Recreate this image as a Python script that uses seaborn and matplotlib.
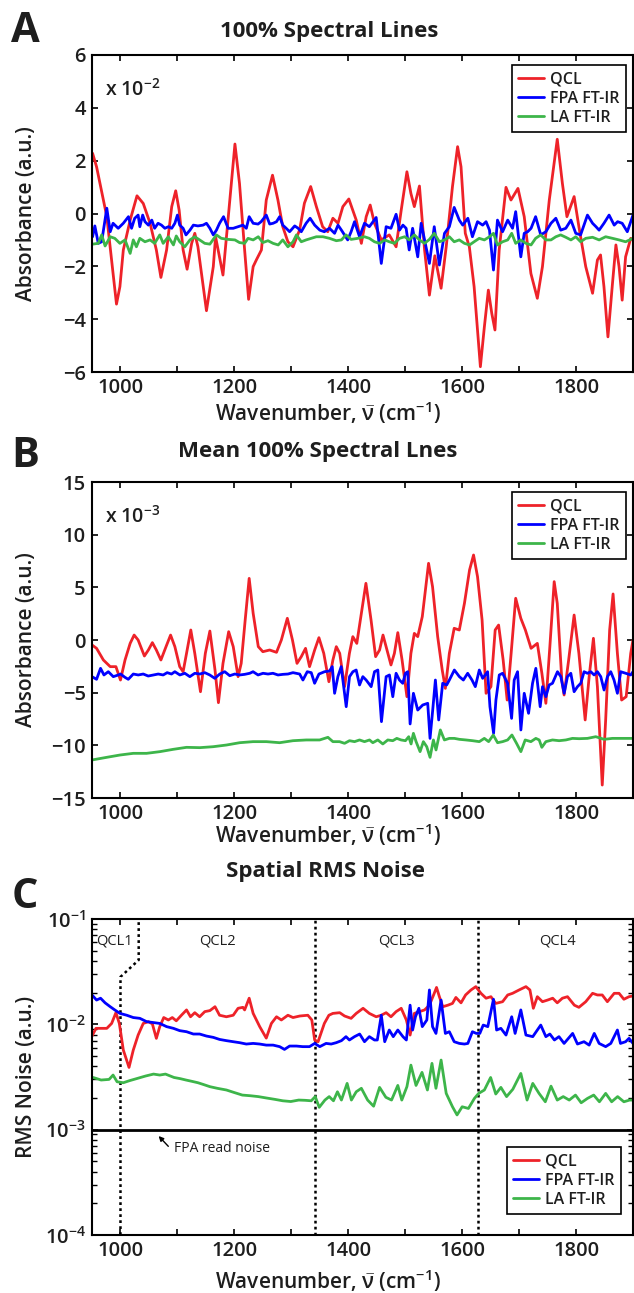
import numpy as np
import pandas as pd
import matplotlib
matplotlib.use("Agg")
import matplotlib.pyplot as plt
import seaborn as sns
from matplotlib.ticker import FixedLocator, LogLocator, NullFormatter

# ---------------------------------------------------------------- data
series_names = ["QCL", "FPA FT-IR", "LA FT-IR"]
series_colors = ["#ee2229", "#0000ff", "#3db54a"]

xticks = [1000, 1200, 1400, 1600, 1800]
xminor = [1000, 1100, 1200, 1300, 1400, 1500, 1600, 1700, 1800, 1900]
a_yticks = [-6, -4, -2, 0, 2, 4, 6]
b_yticks = [-15, -10, -5, 0, 5, 10, 15]
c_yticks = [1e-4, 1e-3, 1e-2, 1e-1]
c_ytick_labels = [r"$10^{-4}$", r"$10^{-3}$", r"$10^{-2}$", r"$10^{-1}$"]

# Panel A (absorbance, units of 1e-2)
a_qcl_wn = [951, 958, 976, 987, 993, 999, 1005, 1017, 1029, 1040,
            1052, 1063, 1071, 1081, 1090, 1097, 1103, 1110, 1117, 1125,
            1130.5, 1136, 1151, 1163, 1167, 1180, 1201, 1209, 1218, 1225,
            1233, 1239, 1247.5, 1256, 1267, 1276.5, 1285, 1294, 1303, 1314.6,
            1323, 1334, 1344, 1355, 1364, 1373, 1382, 1390.5, 1401, 1414,
            1423, 1431.5, 1438.5, 1446, 1458, 1472, 1484, 1493, 1503, 1510,
            1516, 1525, 1534, 1542.5, 1552, 1563, 1572, 1583, 1592, 1598,
            1605.5, 1612.6, 1621, 1632, 1639, 1646, 1652, 1657.6, 1665, 1677,
            1685.7, 1698, 1709, 1720.7, 1732, 1741, 1753, 1767, 1776, 1784,
            1796.6, 1805, 1817, 1829, 1837.5, 1843, 1849, 1856, 1864, 1870,
            1875.5, 1881, 1887, 1896, 1900]
a_qcl = [2.28, 1.77, -0.12, -2.27, -3.43, -2.77, -1.38, -0.25, 0.67, 0.38,
         -0.37, -1.38, -2.42, -1.38, 0.26, 0.86, 0.13, -1.38, -2.11, -1.13,
         -0.75, -1.26, -3.68, -2.01, -0.88, -2.33, 2.63, 1.14, -1.38, -3.25,
         -2.01, -1.74, -1.38, 0.51, 1.45, 0.51, -0.50, -1.07, -1.26, -0.62,
         0.39, 1.02, 0.26, -0.50, -0.69, -0.18, -0.37, 0.26, 0.55, -0.25,
         -1.13, -0.12, 0.32, -0.37, -1.00, -0.81, -1.26, 0.13, 1.58, 0.76,
         0.26, 1.04, -1.38, -3.09, -1.60, -2.83, -1.26, 1.02, 2.53, 1.77,
         -0.75, -1.26, -2.77, -5.80, -4.29, -2.90, -3.78, -4.41, -1.38, 0.99,
         0.51, 0.95, -0.12, -2.27, -3.21, -2.01, 0.51, 2.81, 1.14, -0.12,
         0.64, -0.50, -2.01, -3.02, -1.76, -1.57, -2.77, -4.67, -2.64, -1.19,
         -2.01, -3.28, -1.64, -0.94, -1.00]

a_fpa_wn = [951, 955, 961, 967, 976, 982, 987, 996, 1005, 1014,
            1019.5, 1025, 1031, 1034, 1039, 1043, 1049, 1055, 1060, 1066,
            1072, 1078, 1084, 1090, 1095.5, 1100, 1104, 1110, 1115, 1122,
            1128, 1136, 1145, 1151, 1157, 1163, 1168.5, 1174, 1181, 1189,
            1198, 1206.5, 1215, 1221, 1226, 1233, 1241.6, 1247, 1256, 1262,
            1268, 1274, 1279.5, 1285, 1291, 1297, 1306, 1312, 1317.5, 1326,
            1333, 1341, 1350, 1358, 1367, 1376, 1382, 1388, 1399, 1405,
            1411, 1419.8, 1428.5, 1437, 1449, 1458, 1466.5, 1475, 1484, 1490,
            1496, 1501.6, 1507, 1513, 1522, 1528, 1534, 1542.5, 1551, 1560,
            1569, 1577.5, 1586, 1595, 1601, 1610, 1618, 1627, 1636, 1642,
            1648, 1655, 1662, 1671, 1680, 1688.5, 1694, 1703, 1709, 1715,
            1721, 1729, 1738, 1747, 1756, 1764.5, 1773, 1782, 1791, 1799.5,
            1808, 1820, 1829, 1835, 1840.5, 1849, 1858, 1867, 1873, 1881,
            1890, 1900]
a_fpa = [-0.88, -0.47, -1.13, -1.07, 0.20, -0.69, -0.37, -0.56, -0.37, -0.12,
         -0.56, -0.18, -0.06, -0.50, -0.06, -0.31, -0.44, -0.25, -0.56, -0.37,
         -0.44, -0.56, -0.50, -0.56, -0.37, -0.06, -0.44, -0.56, -0.81, -0.63,
         -0.44, -0.47, -0.44, -0.37, -0.56, -0.81, -0.63, -0.37, -0.12, -0.56,
         -0.56, -0.50, -0.44, -0.56, -0.12, -0.37, -0.40, -0.31, -0.06, -0.40,
         -0.37, -0.31, -0.12, -0.44, -0.56, -0.69, -0.47, -0.56, -0.69, -0.37,
         -0.18, -0.44, -0.63, -0.69, -0.56, -0.75, -0.44, -0.63, -1.00, -0.69,
         -0.31, -0.88, -0.37, -0.50, -0.15, -1.89, -0.50, -0.56, -0.03, -0.63,
         -0.44, -0.56, -1.38, -0.56, -1.64, -0.37, -1.00, -1.89, -0.50, -1.95,
         -0.75, -0.50, 0.23, -0.25, -0.44, -0.18, -0.88, -0.31, -0.44, -0.31,
         -0.63, -2.14, -0.25, -0.69, -0.25, -0.56, 0.07, -1.64, -0.75, -0.69,
         -0.56, -0.12, -0.81, -0.69, -0.37, -0.18, -0.63, -0.56, -0.25, -0.75,
         -0.81, -0.06, -0.37, -0.50, -0.63, -0.37, -0.06, -0.44, -0.31, -0.37,
         -0.69, -0.06]

a_la_wn = [951, 961, 967, 973, 982, 990, 999, 1008, 1017, 1022.5,
           1028, 1034, 1043, 1052, 1060, 1069, 1075, 1084, 1093, 1098,
           1104, 1113, 1122, 1130.5, 1139, 1148, 1157, 1168.5, 1177, 1189,
           1201, 1209, 1218, 1224, 1233, 1242, 1250, 1259, 1268, 1277,
           1285, 1294, 1303, 1309, 1317.5, 1326, 1335, 1344, 1355.5, 1367,
           1379, 1388, 1396, 1405, 1417, 1428.5, 1437, 1446, 1455, 1464,
           1472, 1481, 1490, 1499, 1507, 1516, 1525, 1534, 1542.5, 1551,
           1560, 1569, 1577.5, 1586, 1595, 1604, 1613, 1621, 1630, 1639,
           1648, 1655, 1662, 1671, 1680, 1687, 1694, 1703, 1712, 1721,
           1729, 1738, 1747, 1756, 1764.5, 1773, 1782, 1791, 1799.5, 1808,
           1817, 1829, 1840.5, 1852, 1864, 1875.5, 1887, 1900]
a_la = [-1.16, -1.13, -0.81, -1.23, -0.88, -0.94, -1.13, -1.00, -1.51, -1.00,
        -1.26, -0.94, -1.07, -1.00, -1.13, -0.81, -1.13, -0.88, -1.19, -0.85,
        -1.07, -1.26, -1.00, -0.88, -1.00, -1.13, -1.16, -0.81, -0.94, -0.98,
        -1.00, -1.10, -1.13, -0.94, -1.00, -0.88, -1.10, -1.03, -1.13, -1.19,
        -1.00, -1.26, -1.07, -0.81, -1.07, -1.00, -0.94, -0.88, -0.88, -0.94,
        -1.03, -1.00, -0.81, -0.98, -0.94, -0.88, -0.94, -1.07, -1.13, -1.00,
        -1.07, -1.13, -0.94, -0.88, -1.00, -0.81, -1.00, -1.13, -0.98, -0.75,
        -1.07, -1.00, -0.88, -1.07, -1.00, -1.13, -1.19, -1.07, -0.94, -1.00,
        -0.88, -0.75, -1.19, -1.07, -1.00, -0.75, -1.13, -1.00, -1.13, -1.19,
        -0.94, -0.81, -1.00, -1.00, -0.88, -0.81, -0.90, -1.00, -0.88, -1.07,
        -0.94, -0.90, -1.00, -0.88, -0.94, -1.00, -1.07, -0.94]

# Panel B (mean absorbance, units of 1e-3)
b_qcl_wn = [950, 958, 970, 982, 992, 1000, 1008, 1017, 1024, 1031,
            1042, 1049, 1056, 1063, 1071, 1080, 1088, 1095.5, 1104, 1110,
            1116, 1123.5, 1130.5, 1140.5, 1149, 1157, 1166, 1172, 1180, 1190,
            1198, 1206.5, 1212, 1219, 1226, 1233, 1242, 1250, 1262, 1274,
            1282.5, 1293, 1302, 1310, 1317.5, 1325, 1332, 1341, 1348.5, 1357,
            1366, 1373, 1379, 1385, 1393.5, 1402, 1408, 1415, 1423, 1431,
            1440, 1448, 1455, 1461, 1468, 1475, 1481, 1487, 1494.5, 1503,
            1510, 1516, 1522, 1530, 1541, 1548, 1557, 1565, 1570.5, 1577.5,
            1586, 1595, 1604, 1613, 1620, 1627, 1635, 1642, 1650.5, 1658,
            1664, 1672, 1679, 1686, 1694, 1703, 1711, 1721, 1732, 1740,
            1747, 1754, 1761.6, 1767, 1775, 1779, 1787, 1796.6, 1805, 1816,
            1823, 1830.5, 1837.5, 1846, 1852, 1859, 1865, 1872.6, 1880, 1888,
            1896, 1900]
b_qcl = [-0.47, -0.79, -1.90, -2.53, -2.53, -3.80, -1.90, -0.32, 0.47, 0.00,
         -1.52, -0.95, -0.25, -0.95, -1.90, -0.63, 0.47, -0.63, -2.53, -3.01,
         -1.27, 0.95, -1.27, -4.91, -1.27, 0.85, -2.85, -5.95, -2.22, 0.79,
         -0.63, -3.48, -2.22, 1.90, 5.85, 2.53, -0.63, -1.11, -0.95, -1.17,
         0.00, 2.06, 0.00, -2.22, -1.58, -0.79, -2.53, -0.95, 0.22, -1.27,
         -3.96, -1.90, -0.63, -1.27, -4.43, -1.27, 0.32, -0.32, 2.53, 5.38,
         1.90, -1.58, -0.95, 0.47, -0.95, -2.37, -1.27, 0.70, -1.90, -5.38,
         -1.27, 0.63, 0.32, 2.22, 7.28, 5.06, 0.32, -2.85, -4.59, -1.27,
         1.11, 0.95, 3.48, 6.65, 8.07, 6.01, 1.90, -5.06, -4.43, 0.95,
         1.42, -1.90, -5.70, -1.27, 3.96, 2.06, 0.95, -0.79, -0.32, -3.16,
         -6.01, -0.63, 5.54, 3.48, -3.80, -5.22, -1.90, 2.37, -1.27, -7.59,
         -3.48, 0.16, -4.43, -13.77, -7.59, 0.95, 4.37, -1.27, -5.70, -5.38,
         -1.27, 0.00]

b_fpa_wn = [950, 958, 965, 971, 978.6, 987.4, 996.2, 1000.2, 1007.8, 1013.7,
            1022.5, 1031.2, 1040, 1048.7, 1057.5, 1066.3, 1075, 1082, 1089.6, 1095.5,
            1104.3, 1113, 1121.8, 1130.5, 1139.3, 1148.1, 1156.8, 1165.6, 1174.4, 1183.1,
            1191.9, 1200.7, 1209.4, 1218.2, 1227, 1232.8, 1241.6, 1250.3, 1259.1, 1267.8,
            1276.6, 1285.4, 1294.1, 1302.9, 1314.6, 1320.4, 1328, 1335, 1340.9, 1348.5,
            1358.4, 1367.2, 1371.9, 1376, 1381.8, 1387.6, 1396.4, 1402.2, 1408.1, 1413.9,
            1419.8, 1425.6, 1431.4, 1440.2, 1446.1, 1451.9, 1458.3, 1466.5, 1472.3, 1478.2,
            1484, 1489.9, 1495.7, 1500.4, 1504.5, 1508.6, 1514.4, 1522, 1530.8, 1539.5,
            1543.6, 1548.3, 1553, 1558.8, 1565.8, 1572.8, 1577.5, 1586.3, 1595.1, 1602.1,
            1609.7, 1617.3, 1623.1, 1630.1, 1636, 1644.7, 1648.8, 1655.2, 1659.3, 1665.2,
            1671, 1679.8, 1686.8, 1691.4, 1697.3, 1703.1, 1709, 1716.6, 1723.6, 1729.4,
            1737, 1741.1, 1747, 1752.8, 1758.6, 1767.4, 1773.3, 1779.1, 1784.9, 1790.8,
            1796.6, 1802.5, 1808.3, 1814.1, 1820, 1825.8, 1831.7, 1837.5, 1843.4, 1849.2,
            1855.1, 1860.9, 1866.7, 1872.6, 1878.4, 1887.2, 1895.9, 1900]
b_fpa = [-3.48, -3.73, -2.69, -3.32, -3.01, -3.48, -3.32, -3.23, -3.54, -3.73,
         -3.23, -3.32, -3.23, -3.42, -3.32, -3.23, -3.32, -3.10, -3.23, -3.01,
         -3.32, -3.16, -3.48, -3.16, -3.23, -3.10, -3.32, -3.64, -3.23, -3.01,
         -3.39, -3.23, -3.32, -3.26, -3.16, -3.01, -3.32, -3.16, -3.23, -3.16,
         -3.32, -3.26, -3.23, -3.10, -3.23, -3.80, -3.01, -3.10, -4.11, -3.23,
         -3.01, -2.94, -2.53, -5.06, -3.48, -2.53, -6.33, -3.48, -3.01, -2.85,
         -4.27, -3.48, -3.80, -4.43, -3.01, -2.85, -7.75, -3.48, -3.32, -5.38,
         -3.16, -3.80, -4.11, -3.16, -3.01, -7.97, -5.06, -6.65, -6.17, -6.01,
         -9.34, -6.65, -3.80, -7.59, -4.11, -4.27, -3.80, -2.85, -3.48, -3.80,
         -3.16, -3.80, -4.43, -2.85, -3.64, -3.01, -6.33, -8.86, -5.70, -3.32,
         -3.16, -4.11, -7.44, -3.80, -3.01, -8.54, -5.06, -6.96, -4.11, -2.69,
         -6.33, -4.43, -5.38, -4.27, -4.11, -3.01, -3.48, -5.06, -3.48, -3.16,
         -4.91, -4.43, -4.11, -3.01, -3.16, -3.01, -3.32, -3.01, -3.48, -4.75,
         -3.48, -3.01, -3.80, -5.06, -3.01, -3.16, -3.32, -3.01]

b_la_wn = [950, 975.7, 999.1, 1022.5, 1045.8, 1069.2, 1092.6, 1116, 1139.3, 1162.7,
           1186.1, 1209.4, 1232.8, 1256.2, 1279.5, 1302.9, 1326.3, 1349.7, 1364.3, 1373,
           1384.7, 1393.5, 1402.2, 1411, 1419.8, 1428.5, 1437.3, 1443.1, 1451.9, 1460.7,
           1469.4, 1478.2, 1485.2, 1492.8, 1500.4, 1506.2, 1510.3, 1514.4, 1519.1, 1526.1,
           1531.9, 1537.8, 1543.6, 1549.5, 1554.1, 1561.7, 1568.8, 1577.5, 1586.3, 1595.1,
           1606.7, 1618.4, 1630.1, 1638.9, 1646.5, 1654.6, 1662.2, 1671, 1679.8, 1687.4,
           1695.5, 1703.1, 1710.7, 1720.7, 1729.4, 1735.3, 1739.9, 1747, 1758.6, 1770.3,
           1782, 1793.7, 1805.4, 1820, 1834.6, 1849.2, 1863.8, 1881.4, 1900]
b_la = [-11.39, -11.14, -10.92, -10.76, -10.76, -10.60, -10.38, -10.19, -10.22, -10.13,
        -9.97, -9.75, -9.65, -9.65, -9.75, -9.56, -9.49, -9.49, -9.24, -9.65,
        -9.65, -9.81, -9.56, -9.65, -9.49, -9.65, -9.49, -9.75, -9.49, -9.87,
        -9.49, -9.56, -9.34, -9.49, -9.56, -9.18, -9.87, -8.86, -9.65, -10.60,
        -9.65, -10.13, -11.14, -9.49, -10.44, -8.54, -9.49, -9.34, -9.34, -9.43,
        -9.49, -9.56, -9.65, -9.34, -9.65, -9.02, -9.75, -9.65, -9.49, -9.02,
        -9.81, -10.60, -9.49, -9.65, -9.34, -9.49, -10.19, -9.65, -9.49, -9.56,
        -9.49, -9.34, -9.37, -9.34, -9.18, -9.43, -9.34, -9.34, -9.34]

# Panel C (spatial RMS noise, units of 1e-3)
c_qcl_wn = [950, 957, 964, 976, 984.5, 992, 998, 1005, 1015, 1022.5,
            1031, 1040, 1049, 1056, 1063, 1069, 1076, 1084, 1091, 1098,
            1107, 1116, 1123, 1130.5, 1139, 1148, 1157, 1166, 1174, 1186,
            1198, 1206.5, 1215, 1218, 1226, 1233, 1244.5, 1256, 1265, 1274,
            1282.5, 1294, 1303, 1315, 1329, 1336, 1341, 1347, 1358, 1366,
            1373, 1385, 1393.5, 1405, 1414, 1426, 1437, 1449, 1458, 1466.5,
            1475, 1484, 1493, 1502, 1508.6, 1516, 1525, 1534, 1542.5, 1551,
            1555, 1560, 1566, 1575, 1583, 1589, 1598, 1606, 1615.5, 1624,
            1633, 1642, 1650.5, 1659, 1671, 1680, 1688.5, 1700, 1712, 1719,
            1725, 1732, 1741, 1750, 1759, 1767, 1776, 1785, 1797, 1805,
            1817, 1829, 1837.5, 1846, 1855, 1867, 1875.5, 1884, 1893, 1900]
c_qcl = [7.74, 9.16, 9.16, 9.16, 10.2, 12.9, 10.2, 5.70, 3.90, 5.70,
         7.91, 10.2, 10.6, 10.1, 7.36, 9.51, 11.6, 11.0, 11.6, 10.8,
         12.2, 13.7, 11.8, 12.9, 11.8, 13.2, 13.5, 14.7, 12.2, 11.8,
         12.2, 14.2, 14.5, 13.7, 17.7, 12.7, 9.51, 7.40, 10.2, 11.8,
         11.0, 12.2, 11.6, 12.0, 12.2, 11.0, 7.10, 6.84, 10.2, 12.2,
         12.7, 12.9, 12.0, 11.4, 12.7, 14.2, 12.7, 11.8, 12.2, 12.9,
         11.8, 13.2, 14.2, 11.0, 7.91, 12.7, 13.2, 13.7, 15.2, 19.7,
         22.4, 18.3, 14.7, 15.2, 15.8, 18.0, 16.0, 19.0, 21.2, 22.8,
         19.7, 17.7, 18.3, 15.8, 16.4, 19.0, 19.7, 21.2, 22.8, 21.2,
         14.2, 18.3, 16.4, 17.0, 17.7, 16.0, 17.7, 18.3, 15.2, 14.5,
         16.4, 19.7, 19.0, 19.0, 16.4, 19.7, 19.7, 17.3, 18.3, 18.6]

c_fpa_wn = [950, 958, 965, 973, 982, 990, 999, 1011, 1022.5, 1034,
            1046, 1057.5, 1069, 1081, 1093, 1104, 1116, 1128, 1139, 1151,
            1163, 1174, 1186, 1198, 1209, 1221, 1233, 1244.5, 1256, 1268,
            1279.5, 1288, 1297, 1309, 1320, 1332, 1341, 1350, 1361, 1370,
            1379, 1388, 1396, 1402, 1411, 1420, 1428.5, 1437, 1446, 1451,
            1458, 1464, 1472, 1479, 1487, 1496, 1502, 1508.6, 1513, 1518,
            1524, 1530, 1538, 1542.5, 1548, 1554, 1563, 1570.5, 1577.5, 1586,
            1595, 1604, 1610, 1618, 1625, 1631, 1637, 1645, 1655, 1660.5,
            1668, 1677, 1687, 1693, 1703, 1712, 1724, 1738, 1747, 1754,
            1762, 1770, 1779, 1794, 1802.5, 1814, 1823, 1832, 1840.5, 1852,
            1861, 1872.6, 1878, 1887, 1893, 1900]
c_fpa = [19.0, 17.0, 17.7, 16.0, 14.7, 13.7, 12.7, 12.2, 11.6, 11.4,
         10.6, 10.4, 10.2, 9.51, 9.16, 8.71, 8.51, 8.09, 8.09, 7.74,
         7.52, 7.19, 7.00, 6.84, 6.70, 6.50, 6.59, 6.50, 6.35, 6.35,
         6.14, 5.78, 6.22, 6.22, 6.14, 6.14, 6.59, 6.14, 6.59, 6.50,
         6.70, 7.00, 7.64, 7.10, 7.64, 8.09, 6.84, 7.64, 7.10, 7.10,
         12.2, 6.84, 8.83, 7.64, 8.83, 7.64, 7.10, 15.2, 8.83, 11.8,
         14.2, 9.51, 11.0, 21.2, 9.51, 8.20, 17.0, 8.20, 8.51, 6.84,
         6.59, 6.50, 6.59, 8.51, 8.20, 8.20, 9.84, 9.51, 17.3, 8.83,
         9.16, 7.91, 11.8, 8.20, 13.7, 7.91, 7.64, 9.84, 7.64, 8.09,
         7.10, 7.64, 6.59, 8.20, 6.50, 6.84, 6.35, 8.20, 6.59, 6.14,
         6.59, 8.83, 6.59, 6.84, 7.36, 6.59]

c_la_wn = [952, 966, 980, 987, 994, 1005, 1016, 1030, 1044, 1058,
           1069, 1079, 1094, 1105, 1115, 1125, 1136, 1146, 1157, 1170,
           1186, 1200, 1214, 1228, 1242, 1256, 1271, 1285, 1299, 1313,
           1324, 1335, 1342, 1349, 1359, 1366.5, 1374, 1381, 1388, 1398,
           1405.5, 1414, 1423, 1434, 1444.5, 1455, 1466, 1476, 1487, 1494,
           1503, 1510, 1519, 1529.5, 1539, 1547, 1554, 1563, 1572, 1583,
           1591, 1600, 1611, 1621.5, 1629, 1639, 1650, 1659, 1668, 1678,
           1689, 1703, 1714, 1724, 1735, 1746, 1756, 1767, 1777.5, 1788,
           1799, 1809, 1820, 1831, 1841, 1852, 1862.5, 1873, 1884, 1894,
           1900]
c_la = [3.13, 2.96, 3.00, 3.30, 2.85, 2.79, 2.92, 3.07, 3.23, 3.37,
        3.30, 3.37, 3.13, 3.05, 2.96, 2.88, 2.79, 2.68, 2.56, 2.47,
        2.38, 2.25, 2.13, 2.10, 2.06, 2.00, 1.94, 1.88, 1.85, 1.91,
        1.90, 1.88, 2.06, 1.63, 1.91, 2.06, 1.88, 2.29, 1.91, 2.75,
        1.91, 2.29, 2.47, 1.91, 1.67, 2.52, 2.03, 1.91, 2.63, 1.91,
        2.56, 4.10, 2.63, 3.50, 2.38, 4.26, 2.47, 4.58, 2.21, 1.65,
        1.38, 1.65, 1.59, 1.98, 2.21, 2.38, 3.13, 2.18, 2.52, 2.06,
        2.42, 3.42, 1.91, 2.75, 2.21, 1.84, 2.59, 1.91, 2.06, 1.91,
        2.13, 1.80, 1.98, 2.13, 1.84, 2.21, 1.84, 2.06, 1.84, 1.91,
        1.91]
c_unit = 1e-3

# panel C annotations
qcl_bound_x = [1000, 1000, 1032, 1032]
qcl_bound_y = [1e-4, 0.0282, 0.0408, 1e-1]
qcl_bounds_full = [1342, 1628]
read_noise = 1e-3
qcl_labels = ["QCL1", "QCL2", "QCL3", "QCL4"]
qcl_label_x = [990, 1171, 1485, 1767]
qcl_label_y = 0.0618

# ---------------------------------------------------------------- style
sns.set_theme(style="ticks")
plt.rcParams["font.family"] = ["Open Sans", "DejaVu Sans"]
plt.rcParams.update({
    "font.weight": "semibold",
    "mathtext.fontset": "custom",
    "mathtext.rm": "Open Sans:semibold",
    "mathtext.it": "Open Sans:italic:semibold",
    "mathtext.bf": "Open Sans:bold",
    "mathtext.default": "rm",
    "axes.linewidth": 1.5,
    "axes.edgecolor": "black",
})

W, H = 634.0, 1293.0
fig = plt.figure(figsize=(W / 100, H / 100), dpi=100)


def box(l, t, r, b):
    return [l / W, 1 - b / H, (r - l) / W, (b - t) / H]


axA = fig.add_axes(box(92, 55, 633, 372))
axB = fig.add_axes(box(92, 482, 633, 798))
axC = fig.add_axes(box(92, 919, 633, 1235))

LW = 2.0
TXT = "#1e1e1e"


def draw(ax, wn, vals, name, color, scale=1.0):
    df = pd.DataFrame({"wn": wn, "val": np.asarray(vals) * scale})
    sns.lineplot(data=df, x="wn", y="val", ax=ax, color=color, linewidth=LW,
                 label=name, estimator=None, sort=False)


def style(ax):
    ax.set_xlim(950, 1900)
    ax.xaxis.set_major_locator(FixedLocator(xticks))
    ax.xaxis.set_minor_locator(FixedLocator(xminor))
    ax.tick_params(which="both", direction="in", top=True, right=True,
                   length=4.5, width=1.2, color="black", labelsize=14.5,
                   labelcolor=TXT)
    ax.tick_params(axis="x", which="major", pad=4.5)
    ax.tick_params(axis="y", which="major", pad=4.5)
    ax.set_xlabel("")
    ax.set_ylabel("")
    for s in ax.spines.values():
        s.set_linewidth(1.5)
        s.set_color("black")
        s.set_visible(True)


def legend(ax, loc, anchor):
    leg = ax.legend(loc=loc, bbox_to_anchor=anchor, frameon=True, fancybox=False,
                    edgecolor="black", fontsize=11.5, handlelength=1.6,
                    handletextpad=0.4, labelspacing=0.2, borderpad=0.4,
                    borderaxespad=0.0, framealpha=1.0)
    leg.get_frame().set_linewidth(1.2)
    for t in leg.get_texts():
        t.set_color(TXT)
    return leg


# Panel A
for wn, v, n, c in zip([a_qcl_wn, a_fpa_wn, a_la_wn], [a_qcl, a_fpa, a_la],
                       series_names, series_colors):
    draw(axA, wn, v, n, c)
style(axA)
axA.set_ylim(-6, 6)
axA.set_yticks(a_yticks)
legend(axA, "upper right", (0.987, 0.968))
axA.text(0.024, 0.89, r"x 10$^{-2}$", transform=axA.transAxes, fontsize=14,
         ha="left", va="center", color=TXT)

# Panel B
for wn, v, n, c in zip([b_qcl_wn, b_fpa_wn, b_la_wn], [b_qcl, b_fpa, b_la],
                       series_names, series_colors):
    draw(axB, wn, v, n, c)
style(axB)
axB.set_ylim(-15, 15)
axB.set_yticks(b_yticks)
legend(axB, "upper right", (0.987, 0.968))
axB.text(0.024, 0.89, r"x 10$^{-3}$", transform=axB.transAxes, fontsize=14,
         ha="left", va="center", color=TXT)

# Panel C
axC.set_yscale("log")
for wn, v, n, c in zip([c_qcl_wn, c_fpa_wn, c_la_wn], [c_qcl, c_fpa, c_la],
                       series_names, series_colors):
    draw(axC, wn, v, n, c, scale=c_unit)
style(axC)
axC.set_ylim(1e-4, 1e-1)
axC.yaxis.set_major_locator(FixedLocator(c_yticks))
axC.set_yticklabels(c_ytick_labels)
axC.yaxis.set_minor_locator(LogLocator(base=10, subs=np.arange(2, 10)))
axC.yaxis.set_minor_formatter(NullFormatter())
axC.tick_params(axis="y", which="minor", length=3.5, width=1.0)
axC.axhline(read_noise, color="black", lw=2.0, zorder=1)
dot = (0, (1.1, 1.3))
axC.plot(qcl_bound_x, qcl_bound_y, color="black", lw=1.8, ls=dot, zorder=1)
for xb in qcl_bounds_full:
    axC.plot([xb, xb], [1e-4, 1e-1], color="black", lw=1.8, ls=dot, zorder=1)
for lab, xl in zip(qcl_labels, qcl_label_x):
    axC.text(xl, qcl_label_y, lab, fontsize=10.5, fontweight="normal",
             ha="center", va="center", color=TXT)
axC.annotate("", xy=(1067, 8.7e-4), xytext=(1084, 6.95e-4),
             arrowprops=dict(arrowstyle="-|>", color="black", lw=1.0,
                             mutation_scale=7, shrinkA=0, shrinkB=0))
axC.text(1094, 6.68e-4, "FPA read noise", fontsize=10, fontweight="normal",
         ha="left", va="center", color=TXT)
legend(axC, "lower right", (0.978, 0.066))


# Figure texts (panel letters, titles, axis labels)
def ftext(x, y, s, **kw):
    fig.text(x / W, 1 - y / H, s, ha="center", va="center", color=TXT, **kw)


for letter, y in zip(["A", "B", "C"], [31, 457, 898]):
    ftext(25, y, letter, fontsize=30, fontweight="bold")
for title, x, y in zip(["100% Spectral Lines", "Mean 100% Spectral Lnes", "Spatial RMS Noise"],
                       [329, 318, 326], [32, 451, 871]):
    ftext(x, y, title, fontsize=16, fontweight="bold")
xlabel = r"Wavenumber, $\bar{\nu}$ (cm$^{-1}$)"
for y in [413, 835, 1281]:
    ftext(328, y, xlabel, fontsize=15)
for lab, y in zip(["Absorbance (a.u.)", "Absorbance (a.u.)", "RMS Noise (a.u.)"],
                  [213.5, 640, 1077]):
    ftext(27, y, lab, fontsize=15, rotation=90)

fig.savefig("out.png", dpi=100)
